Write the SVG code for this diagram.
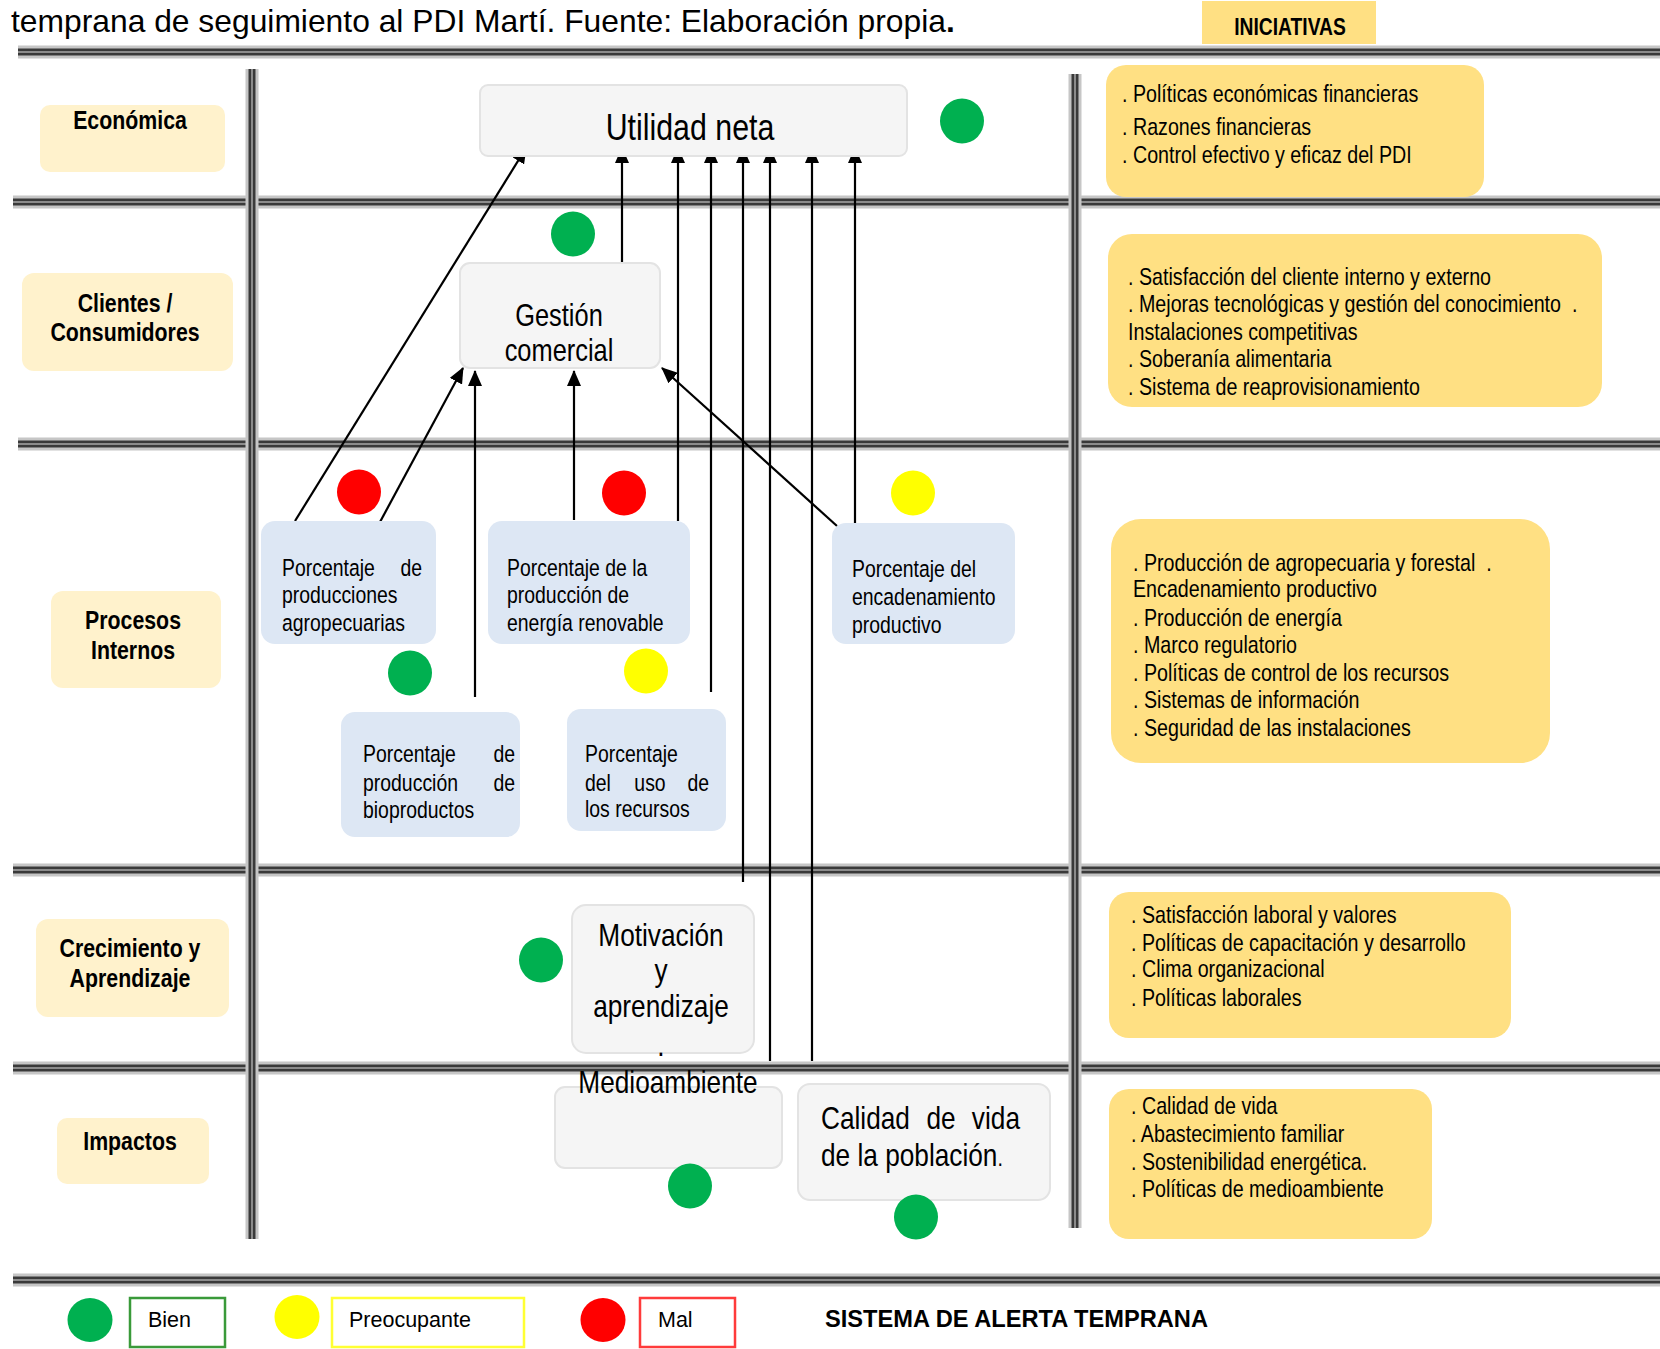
<svg xmlns="http://www.w3.org/2000/svg" xmlns:xlink="http://www.w3.org/1999/xlink" width="1660" height="1349" viewBox="0 0 1660 1349">
  <style>
    text { font-family: "Liberation Sans", Arial, sans-serif; fill: #000; }
    .cat { font-weight: bold; font-size: 26px; text-anchor: middle; }
    .catbox { fill: #FFF2CC; }
    .inibox { fill: #FFE083; }
    .ini { font-size: 24px; white-space: pre; }
    .kpibox { fill: #DDE7F4; }
    .kpi { font-size: 23.7px; }
    .goalbox { fill: #F5F5F5; stroke: #E3E3E3; stroke-width: 2; }
    .mid { text-anchor: middle; }
    .end { text-anchor: end; }
    .big { font-size: 32px; }
    .conn line { stroke: #000; stroke-width: 2.2; fill: none; marker-end: url(#ah); }
    .ok { fill: #00B050; }
    .warn { fill: #FFFF00; }
    .bad { fill: #FF0000; }
    .key { font-size: 21.5px; }
    .r1 { stroke: #c6c6c6; stroke-width: 13; }
    .r2 { stroke: #3a3a3a; stroke-width: 7; }
    .r3 { stroke: #8c8c8c; stroke-width: 2; }
  </style>
  <defs>
    <marker id="ah" markerWidth="16" markerHeight="14" refX="15" refY="7" orient="auto" markerUnits="userSpaceOnUse">
      <path d="M0,0 L16,7 L0,14 z" fill="#000"/>
    </marker>
    <g id="hrule">
      <line class="r1" x1="0" y1="0" x2="1660" y2="0"/>
      <line class="r2" x1="0" y1="0" x2="1660" y2="0"/>
      <line class="r3" x1="0" y1="0" x2="1660" y2="0"/>
    </g>
  </defs>

  <rect width="1660" height="1349" fill="#fff"/>

  <!-- caption -->
  <text x="11" y="32" font-size="31.8">temprana de seguimiento al PDI Martí. Fuente: Elaboración propia<tspan font-weight="bold">.</tspan></text>

  <!-- header tab (narrow type: Arial scaled to 82 % width) -->
  <g id="tab-iniciativas">
    <rect x="1202" y="1" width="174" height="43" class="inibox"/>
    <text transform="translate(1290 35) scale(.82 1)" font-size="23.5" font-weight="bold" class="mid">INICIATIVAS</text>
  </g>

  <!-- grid rules -->
  <g id="grid">
    <use xlink:href="#hrule" x="18" y="52"/>
    <use xlink:href="#hrule" x="13" y="202"/>
    <use xlink:href="#hrule" x="18" y="444"/>
    <use xlink:href="#hrule" x="13" y="870"/>
    <use xlink:href="#hrule" x="13" y="1068"/>
    <use xlink:href="#hrule" x="13" y="1280"/>
    <g>
      <line class="r1" x1="252" y1="69" x2="252" y2="1239"/>
      <line class="r2" x1="252" y1="69" x2="252" y2="1239"/>
      <line class="r3" x1="252" y1="69" x2="252" y2="1239"/>
      <line class="r1" x1="1075" y1="74" x2="1075" y2="1228"/>
      <line class="r2" x1="1075" y1="74" x2="1075" y2="1228"/>
      <line class="r3" x1="1075" y1="74" x2="1075" y2="1228"/>
    </g>
  </g>

  <!-- perspective labels -->
  <g id="cat-economica">
    <rect x="40" y="105" width="185" height="67" rx="10" class="catbox"/>
    <text transform="translate(130 129) scale(.82 1)" class="cat">Económica</text>
  </g>
  <g id="cat-clientes">
    <rect x="22" y="273" width="211" height="98" rx="12" class="catbox"/>
    <text transform="translate(125 312) scale(.82 1)" class="cat">Clientes /</text>
    <text transform="translate(125 341) scale(.82 1)" class="cat">Consumidores</text>
  </g>
  <g id="cat-procesos">
    <rect x="51" y="591" width="170" height="97" rx="12" class="catbox"/>
    <text transform="translate(133 629) scale(.82 1)" class="cat">Procesos</text>
    <text transform="translate(133 659) scale(.82 1)" class="cat">Internos</text>
  </g>
  <g id="cat-crecimiento">
    <rect x="36" y="919" width="193" height="98" rx="12" class="catbox"/>
    <text transform="translate(130 957) scale(.82 1)" class="cat">Crecimiento y</text>
    <text transform="translate(130 987) scale(.82 1)" class="cat">Aprendizaje</text>
  </g>
  <g id="cat-impactos">
    <rect x="57" y="1118" width="152" height="66" rx="10" class="catbox"/>
    <text transform="translate(130 1150) scale(.82 1)" class="cat">Impactos</text>
  </g>

  <!-- connectors -->
  <g id="connectors" class="conn">
    <line x1="295" y1="521" x2="526" y2="148"/>
    <line x1="622" y1="262" x2="622" y2="148"/>
    <line x1="678" y1="521" x2="678" y2="148"/>
    <line x1="711" y1="692" x2="711" y2="148"/>
    <line x1="743" y1="882" x2="743" y2="148"/>
    <line x1="770" y1="1061" x2="770" y2="148"/>
    <line x1="812" y1="1061" x2="812" y2="148"/>
    <line x1="855" y1="526" x2="855" y2="148"/>
    <line x1="380" y1="522" x2="463" y2="368"/>
    <line x1="475" y1="697" x2="475" y2="371"/>
    <line x1="574" y1="520" x2="574" y2="371"/>
    <line x1="837" y1="526" x2="662" y2="368"/>
  </g>

  <!-- goals -->
  <g id="utilidad-neta">
    <rect x="480" y="85" width="427" height="71" rx="8" class="goalbox"/>
    <text transform="translate(690 140) scale(.82 1)" class="mid" font-size="37">Utilidad neta</text>
  </g>
  <g id="gestion-comercial">
    <rect x="460" y="263" width="200" height="105" rx="10" class="goalbox"/>
    <text transform="translate(559 326) scale(.82 1)" class="mid" font-size="31">Gestión</text>
    <text transform="translate(559 361) scale(.82 1)" class="mid" font-size="31">comercial</text>
  </g>

  <!-- process indicators -->
  <g id="kpi-agropecuarias">
    <rect x="261" y="521" width="175" height="123" rx="14" class="kpibox"/>
    <text transform="translate(282 576) scale(.82 1)" class="kpi">Porcentaje</text>
    <text transform="translate(422 576) scale(.82 1)" class="kpi end">de</text>
    <text transform="translate(282 603) scale(.82 1)" class="kpi">producciones</text>
    <text transform="translate(282 631) scale(.82 1)" class="kpi">agropecuarias</text>
  </g>
  <g id="kpi-energia">
    <rect x="488" y="521" width="202" height="123" rx="14" class="kpibox"/>
    <text transform="translate(507 576) scale(.82 1)" class="kpi">Porcentaje de la</text>
    <text transform="translate(507 603) scale(.82 1)" class="kpi">producción de</text>
    <text transform="translate(507 631) scale(.82 1)" class="kpi">energía renovable</text>
  </g>
  <g id="kpi-encadenamiento">
    <rect x="832" y="523" width="183" height="121" rx="14" class="kpibox"/>
    <text transform="translate(852 577) scale(.82 1)" class="kpi">Porcentaje del</text>
    <text transform="translate(852 605) scale(.82 1)" class="kpi">encadenamiento</text>
    <text transform="translate(852 633) scale(.82 1)" class="kpi">productivo</text>
  </g>
  <g id="kpi-bioproductos">
    <rect x="341" y="712" width="179" height="125" rx="14" class="kpibox"/>
    <text transform="translate(363 762) scale(.82 1)" class="kpi">Porcentaje</text>
    <text transform="translate(515 762) scale(.82 1)" class="kpi end">de</text>
    <text transform="translate(363 791) scale(.82 1)" class="kpi">producción</text>
    <text transform="translate(515 791) scale(.82 1)" class="kpi end">de</text>
    <text transform="translate(363 818) scale(.82 1)" class="kpi">bioproductos</text>
  </g>
  <g id="kpi-recursos">
    <rect x="567" y="709" width="159" height="122" rx="14" class="kpibox"/>
    <text transform="translate(585 762) scale(.82 1)" class="kpi">Porcentaje</text>
    <text transform="translate(585 791) scale(.82 1)" class="kpi">del</text>
    <text transform="translate(650 791) scale(.82 1)" class="kpi mid">uso</text>
    <text transform="translate(709 791) scale(.82 1)" class="kpi end">de</text>
    <text transform="translate(585 817) scale(.82 1)" class="kpi">los recursos</text>
  </g>

  <!-- learning and impacts -->
  <g id="motivacion">
    <rect x="572" y="905" width="182" height="148" rx="14" class="goalbox"/>
    <text transform="translate(661 946) scale(.82 1)" class="mid big">Motivación</text>
    <text transform="translate(661 981) scale(.82 1)" class="mid big">y</text>
    <text transform="translate(661 1017) scale(.82 1)" class="mid big">aprendizaje</text>
  </g>
  <g id="medioambiente">
    <rect x="555" y="1087" width="227" height="81" rx="10" class="goalbox"/>
    <text transform="translate(661 1056) scale(.82 1)" class="mid big">.</text>
    <text transform="translate(668 1093) scale(.82 1)" class="mid big">Medioambiente</text>
  </g>
  <g id="calidad-vida">
    <rect x="798" y="1084" width="252" height="116" rx="12" class="goalbox"/>
    <text transform="translate(821 1129) scale(.82 1)" class="big">Calidad</text>
    <text transform="translate(941 1129) scale(.82 1)" class="big mid">de</text>
    <text transform="translate(1020 1129) scale(.82 1)" class="big end">vida</text>
    <text transform="translate(821 1166) scale(.82 1)" class="big">de la población<tspan font-size="24">.</tspan></text>
  </g>

  <!-- status lights -->
  <g id="lights">
    <ellipse cx="962" cy="121" rx="22" ry="22.5" class="ok"/>
    <ellipse cx="573" cy="234" rx="22" ry="22.5" class="ok"/>
    <ellipse cx="359" cy="492" rx="22" ry="22.5" class="bad"/>
    <ellipse cx="624" cy="493" rx="22" ry="22.5" class="bad"/>
    <ellipse cx="913" cy="493" rx="22" ry="22.5" class="warn"/>
    <ellipse cx="410" cy="673" rx="22" ry="22.5" class="ok"/>
    <ellipse cx="646" cy="671" rx="22" ry="22.5" class="warn"/>
    <ellipse cx="541" cy="960" rx="22" ry="22.5" class="ok"/>
    <ellipse cx="690" cy="1186" rx="22" ry="22.5" class="ok"/>
    <ellipse cx="916" cy="1217" rx="22" ry="22.5" class="ok"/>
  </g>

  <!-- initiatives -->
  <g id="ini-economica">
    <rect x="1106" y="65" width="378" height="132" rx="20" class="inibox"/>
    <text transform="translate(1122 102) scale(.82 1)" class="ini">. Políticas económicas financieras</text>
    <text transform="translate(1122 135) scale(.82 1)" class="ini">. Razones financieras</text>
    <text transform="translate(1122 163) scale(.82 1)" class="ini">. Control efectivo y eficaz del PDI</text>
  </g>
  <g id="ini-clientes">
    <rect x="1108" y="234" width="494" height="173" rx="24" class="inibox"/>
    <text transform="translate(1128 285) scale(.82 1)" class="ini">. Satisfacción del cliente interno y externo</text>
    <text transform="translate(1128 312) scale(.82 1)" class="ini">. Mejoras tecnológicas y gestión del conocimiento  .</text>
    <text transform="translate(1128 340) scale(.82 1)" class="ini">Instalaciones competitivas</text>
    <text transform="translate(1128 367) scale(.82 1)" class="ini">. Soberanía alimentaria</text>
    <text transform="translate(1128 395) scale(.82 1)" class="ini">. Sistema de reaprovisionamiento</text>
  </g>
  <g id="ini-procesos">
    <rect x="1111" y="519" width="439" height="244" rx="30" class="inibox"/>
    <text transform="translate(1133 571) scale(.82 1)" class="ini">. Producción de agropecuaria y forestal  .</text>
    <text transform="translate(1133 597) scale(.82 1)" class="ini">Encadenamiento productivo</text>
    <text transform="translate(1133 626) scale(.82 1)" class="ini">. Producción de energía</text>
    <text transform="translate(1133 653) scale(.82 1)" class="ini">. Marco regulatorio</text>
    <text transform="translate(1133 681) scale(.82 1)" class="ini">. Políticas de control de los recursos</text>
    <text transform="translate(1133 708) scale(.82 1)" class="ini">. Sistemas de información</text>
    <text transform="translate(1133 736) scale(.82 1)" class="ini">. Seguridad de las instalaciones</text>
  </g>
  <g id="ini-crecimiento">
    <rect x="1109" y="892" width="402" height="146" rx="20" class="inibox"/>
    <text transform="translate(1131 923) scale(.82 1)" class="ini">. Satisfacción laboral y valores</text>
    <text transform="translate(1131 951) scale(.82 1)" class="ini">. Políticas de capacitación y desarrollo</text>
    <text transform="translate(1131 977) scale(.82 1)" class="ini">. Clima organizacional</text>
    <text transform="translate(1131 1006) scale(.82 1)" class="ini">. Políticas laborales</text>
  </g>
  <g id="ini-impactos">
    <rect x="1109" y="1089" width="323" height="150" rx="20" class="inibox"/>
    <text transform="translate(1131 1114) scale(.82 1)" class="ini">. Calidad de vida</text>
    <text transform="translate(1131 1142) scale(.82 1)" class="ini">. Abastecimiento familiar</text>
    <text transform="translate(1131 1170) scale(.82 1)" class="ini">. Sostenibilidad energética.</text>
    <text transform="translate(1131 1197) scale(.82 1)" class="ini">. Políticas de medioambiente</text>
  </g>

  <!-- legend -->
  <g id="legend">
    <ellipse cx="90" cy="1320" rx="22.5" ry="22" class="ok"/>
    <rect x="130" y="1298" width="95" height="49" fill="#fff" stroke="#3a9a3a" stroke-width="2.5"/>
    <text x="148" y="1327" class="key">Bien</text>
    <ellipse cx="297" cy="1317" rx="22.5" ry="22" class="warn"/>
    <rect x="332" y="1298" width="192" height="49" fill="#fff" stroke="#FFFF33" stroke-width="2.5"/>
    <text x="349" y="1327" class="key">Preocupante</text>
    <ellipse cx="603" cy="1320" rx="22.5" ry="22" class="bad"/>
    <rect x="640" y="1298" width="95" height="49" fill="#fff" stroke="#FF3b3b" stroke-width="2.5"/>
    <text x="658" y="1327" class="key">Mal</text>
    <text x="825" y="1327" font-weight="bold" font-size="23" textLength="383" lengthAdjust="spacingAndGlyphs" style="white-space:pre">SISTEMA DE ALERTA TEMPRANA</text>
  </g>
</svg>
